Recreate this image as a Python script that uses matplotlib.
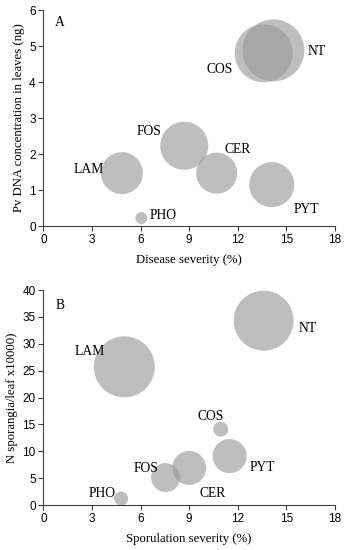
import matplotlib
matplotlib.use("Agg")
import matplotlib.pyplot as plt

# Panel A data
treat_a = ["NT", "COS", "FOS", "CER", "LAM", "PYT", "PHO"]
disease_sev = [14.2, 13.6, 8.7, 10.7, 4.85, 14.1, 6.05]
dna_conc = [4.88, 4.8, 2.23, 1.47, 1.47, 1.15, 0.22]
bubble_a = [62, 58, 48, 41, 42, 45, 12]

# Panel B data
treat_b = ["NT", "LAM", "COS", "PYT", "CER", "FOS", "PHO"]
sporul_sev = [13.6, 5.0, 10.95, 11.5, 9.0, 7.55, 4.8]
n_sporangia = [34.3, 25.7, 14.1, 9.1, 6.9, 5.1, 1.2]
bubble_b = [60, 61, 15, 34, 34, 29, 14]

# label placement (data coords)
lab_a = {"NT": (16.3, 4.84), "COS": (10.1, 4.36), "FOS": (5.76, 2.62),
         "CER": (11.17, 2.12), "LAM": (1.85, 1.57), "PYT": (15.43, 0.45),
         "PHO": (6.58, 0.28)}
lab_b = {"NT": (15.74, 32.9), "LAM": (1.95, 28.65), "COS": (9.53, 16.4),
         "PYT": (12.72, 7.0), "FOS": (5.56, 6.7), "CER": (9.67, 2.05),
         "PHO": (2.78, 2.17)}

DPI = 100
fig = plt.figure(figsize=(3.48, 5.5), dpi=DPI)
serif = "Liberation Serif"
sans = "Liberation Sans"
bubble_color = "#9c9c9c"
alpha = 0.65
LFS = 9.8

def style(ax, xlabel, ylabel, yticks):
    ax.set_xlim(0, 18)
    ax.set_xticks(range(0, 19, 3))
    ax.set_yticks(yticks)
    ax.set_ylim(yticks[0], yticks[-1])
    for s in ["top", "right"]:
        ax.spines[s].set_visible(False)
    for s in ["left", "bottom"]:
        ax.spines[s].set_color("#404040")
        ax.spines[s].set_linewidth(0.8)
    ax.tick_params(direction="out", length=3.5, width=0.8, color="#404040",
                   labelsize=8.5, pad=2)
    for t in ax.get_xticklabels() + ax.get_yticklabels():
        t.set_fontfamily(sans)
    ax.set_xlabel(xlabel, fontfamily=serif, fontsize=9.2, labelpad=6)
    ax.set_ylabel(ylabel, fontfamily=serif, fontsize=9.2, labelpad=3)

ax1 = fig.add_axes([0.1245, 0.589, 0.838, 0.3927])
s_a = [(d * 72 / DPI) ** 2 for d in bubble_a]
ax1.scatter(disease_sev, dna_conc, s=s_a, color=bubble_color, alpha=alpha,
            edgecolors="none", clip_on=False)
for name in treat_a:
    x, y = lab_a[name]
    ax1.text(x, y, name, fontfamily=serif, fontsize=LFS, va="center", ha="left")
ax1.text(0.72, 5.66, "A", fontfamily=serif, fontsize=LFS, va="center", ha="left")
style(ax1, "Disease severity (%)", "Pv DNA concentration in leaves (ng)",
      list(range(0, 7)))

ax2 = fig.add_axes([0.1245, 0.0818, 0.838, 0.3909])
s_b = [(d * 72 / DPI) ** 2 for d in bubble_b]
ax2.scatter(sporul_sev, n_sporangia, s=s_b, color=bubble_color, alpha=alpha,
            edgecolors="none", clip_on=False)
for name in treat_b:
    x, y = lab_b[name]
    ax2.text(x, y, name, fontfamily=serif, fontsize=LFS, va="center", ha="left")
ax2.text(0.78, 37.1, "B", fontfamily=serif, fontsize=LFS, va="center", ha="left")
style(ax2, "Sporulation severity (%)", "N sporangia/leaf x10000)",
      list(range(0, 41, 5)))

fig.savefig("out.png", dpi=DPI)
